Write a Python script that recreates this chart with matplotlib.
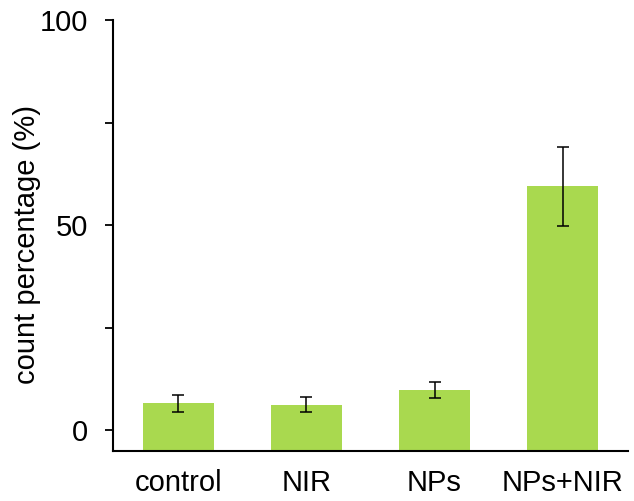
#!/usr/bin/env python3
"""Bar chart of count percentage per treatment group."""
import matplotlib
matplotlib.use("Agg")
import matplotlib.pyplot as plt
from matplotlib.ticker import MultipleLocator

groups = ["control", "NIR", "NPs", "NPs+NIR"]
count_pct = [6.6, 6.3, 9.8, 59.5]
count_err = [2.1, 1.8, 2.0, 9.6]

Y_MIN, Y_MAX = -5, 100
BAR_COLOR = "#a9d94f"

plt.rcParams["font.family"] = ["Liberation Sans", "DejaVu Sans"]

fig = plt.figure(figsize=(6.34, 5.01), dpi=100)
ax = fig.add_axes([113 / 634, 50 / 501, 515 / 634, 431 / 501])

x = list(range(len(groups)))
heights = [v - Y_MIN for v in count_pct]
ax.bar(x, heights, bottom=Y_MIN, width=0.55, color=BAR_COLOR, edgecolor="none", zorder=2)
ax.errorbar(x, count_pct, yerr=count_err, fmt="none", ecolor="black",
            elinewidth=1.1, capsize=4.5, capthick=1.1, zorder=3)

ax.set_xlim(-0.51, 3.51)
ax.set_ylim(Y_MIN, Y_MAX)
ax.set_xticks(x)
ax.set_xticklabels(groups, fontsize=21)
ax.set_yticks([0, 50, 100])
ax.yaxis.set_minor_locator(MultipleLocator(25))
ax.tick_params(axis="y", which="both", direction="out", length=6, width=1.3, labelsize=21, pad=12)
ax.tick_params(axis="x", length=0, pad=13)

ax.set_ylabel("count percentage (%)", fontsize=21)
ax.yaxis.set_label_coords(-0.14, 0.478)

for side in ("top", "right"):
    ax.spines[side].set_visible(False)
for side in ("left", "bottom"):
    ax.spines[side].set_linewidth(1.5)

fig.savefig("out.png", dpi=100, facecolor="white")
